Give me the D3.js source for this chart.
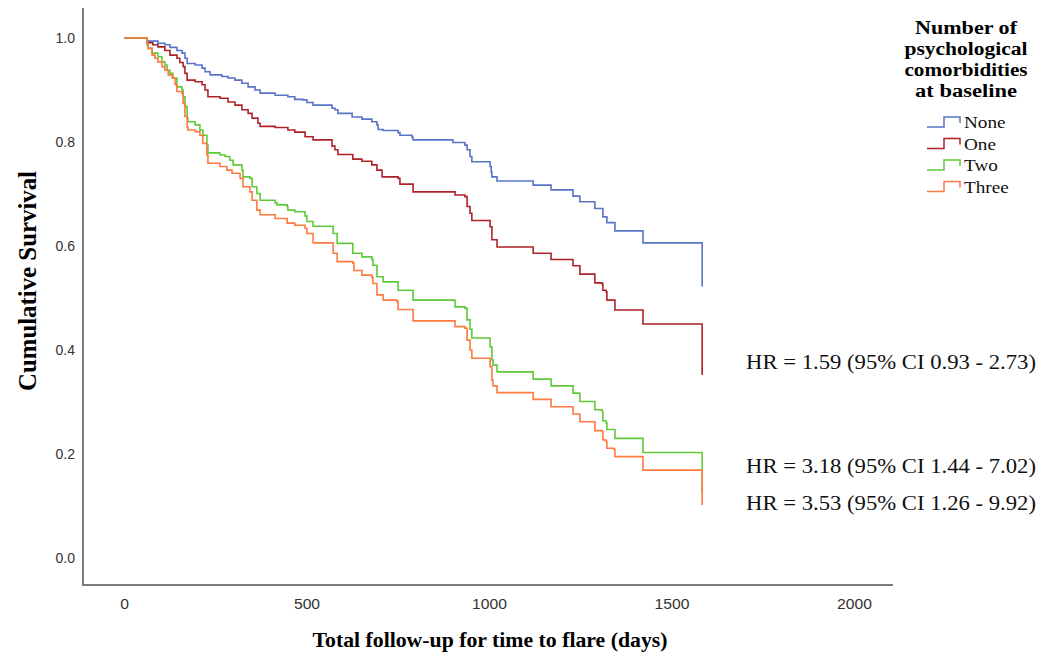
<!DOCTYPE html>
<html>
<head>
<meta charset="utf-8">
<script src="https://cdn.jsdelivr.net/npm/d3@7"></script>
<style>
  body { margin: 0; background: #fff; }
  svg { display: block; }
</style>
</head>
<body>
<div id="plot"></div>
<script>
// survival steps: [day, cumulative survival after the drop]
var noneSteps = [[0,1],[63,0.994],[93,0.990],[112,0.987],[126,0.982],[145,0.976],[159,0.971],[167,0.961],[173,0.951],
  [195,0.948],[214,0.942],[222,0.935],[236,0.929],[268,0.926],[285,0.923],[304,0.919],[323,0.913],[340,0.906],
  [359,0.900],[373,0.894],[414,0.890],[449,0.887],[468,0.882],[490,0.881],[501,0.876],[518,0.871],[570,0.865],
  [578,0.862],[586,0.855],[625,0.848],[652,0.844],[679,0.839],[693,0.833],[696,0.824],[710,0.822],[751,0.818],
  [756,0.813],[789,0.809],[792,0.804],[901,0.799],[934,0.794],[940,0.785],[948,0.772],[953,0.762],[1003,0.753],
  [1006,0.742],[1008,0.733],[1022,0.725],[1121,0.717],[1170,0.708],[1230,0.696],[1249,0.685],[1290,0.672],
  [1312,0.656],[1323,0.645],[1345,0.629],[1422,0.606],[1584,0.522]];

var oneSteps = [[0,1],[63,0.991],[79,0.987],[93,0.983],[112,0.976],[126,0.967],[145,0.961],[153,0.953],[162,0.945],
  [167,0.932],[173,0.919],[195,0.916],[214,0.910],[222,0.900],[230,0.887],[263,0.884],[285,0.877],[304,0.871],
  [323,0.862],[340,0.855],[351,0.846],[367,0.836],[373,0.830],[414,0.828],[449,0.823],[468,0.819],[496,0.810],
  [518,0.804],[570,0.792],[578,0.785],[586,0.776],[627,0.767],[652,0.763],[679,0.756],[693,0.746],[707,0.733],
  [751,0.730],[756,0.719],[792,0.704],[907,0.698],[934,0.695],[940,0.676],[948,0.663],[953,0.649],[1003,0.637],
  [1008,0.612],[1022,0.598],[1121,0.586],[1170,0.574],[1230,0.562],[1249,0.546],[1290,0.529],[1310,0.527],
  [1312,0.515],[1321,0.512],[1323,0.496],[1345,0.477],[1422,0.450],[1584,0.352]];

var twoSteps = [[0,1],[63,0.987],[66,0.980],[77,0.971],[93,0.964],[104,0.954],[112,0.948],[118,0.938],[126,0.932],
  [134,0.923],[145,0.906],[159,0.900],[162,0.887],[167,0.868],[173,0.846],[175,0.839],[195,0.833],[208,0.823],
  [216,0.813],[227,0.794],[230,0.779],[263,0.775],[277,0.772],[290,0.765],[299,0.756],[323,0.746],[326,0.733],
  [345,0.730],[351,0.714],[364,0.701],[373,0.688],[414,0.683],[419,0.679],[447,0.676],[449,0.669],[468,0.666],
  [496,0.658],[501,0.647],[518,0.638],[573,0.624],[584,0.605],[627,0.586],[652,0.579],[679,0.574],[682,0.563],
  [693,0.541],[710,0.531],[751,0.515],[792,0.496],[907,0.483],[934,0.480],[940,0.458],[948,0.440],[953,0.423],
  [1003,0.406],[1008,0.381],[1011,0.371],[1022,0.358],[1121,0.344],[1170,0.331],[1230,0.317],[1249,0.301],
  [1290,0.285],[1310,0.282],[1312,0.264],[1321,0.260],[1323,0.247],[1345,0.230],[1422,0.203],[1584,0.126]];

var threeSteps = [[0,1],[63,0.990],[66,0.980],[77,0.967],[85,0.961],[93,0.954],[104,0.945],[112,0.938],[121,0.929],
  [132,0.923],[140,0.910],[145,0.897],[159,0.894],[162,0.874],[167,0.849],[173,0.829],[175,0.823],[195,0.820],
  [208,0.813],[216,0.797],[227,0.775],[230,0.759],[263,0.753],[282,0.746],[296,0.740],[318,0.730],[326,0.714],
  [345,0.704],[351,0.688],[364,0.669],[373,0.660],[414,0.653],[447,0.644],[468,0.640],[496,0.634],[501,0.624],
  [518,0.606],[573,0.586],[584,0.570],[627,0.567],[630,0.553],[652,0.544],[679,0.540],[682,0.528],[693,0.506],
  [710,0.496],[748,0.493],[751,0.478],[792,0.456],[907,0.445],[934,0.442],[940,0.419],[948,0.400],[953,0.384],
  [1003,0.368],[1008,0.342],[1011,0.331],[1022,0.318],[1121,0.305],[1170,0.291],[1230,0.277],[1249,0.262],
  [1290,0.245],[1310,0.243],[1312,0.227],[1321,0.224],[1323,0.211],[1342,0.209],[1345,0.195],[1422,0.169],[1584,0.102]];

var groupNames = ["None", "One", "Two", "Three"];
var groupColors = ["#5873c8", "#b0222a", "#5fca38", "#ff7a40"];
var xTicks = [0, 500, 1000, 1500, 2000];
var yTicks = [0, 0.2, 0.4, 0.6, 0.8, 1.0];
var legendTitle = ["Number of", "psychological", "comorbidities", "at baseline"];
var legendTitleWidths = [102, 123, 123, 102];
var hrLabels = [
  {text: "HR = 1.59 (95% CI 0.93 - 2.73)", y: 0.377},
  {text: "HR = 3.18 (95% CI 1.44 - 7.02)", y: 0.177},
  {text: "HR = 3.53 (95% CI 1.26 - 9.92)", y: 0.106}
];

var serif = "'Liberation Serif', 'Times New Roman', serif";
var sans = "'Liberation Sans', Arial, sans-serif";

var W = 1050, H = 658;
var svg = d3.select("#plot").append("svg").attr("width", W).attr("height", H);

var x = d3.scaleLinear().domain([0, 2000]).range([124, 854]);
var y = d3.scaleLinear().domain([0, 1]).range([558, 38]);

// widen text a bit like the (slightly stretched) original
function stretch(sel, k) {
  sel.each(function() {
    var w = this.getComputedTextLength();
    d3.select(this).attr("textLength", w * k).attr("lengthAdjust", "spacingAndGlyphs");
  });
}

// frame (left + bottom only, no tick marks)
svg.append("path")
  .attr("d", "M83,8V585H893")
  .attr("fill", "none")
  .attr("stroke", "#7a7a7a")
  .attr("stroke-width", 2);

var xAxis = svg.append("g")
  .attr("transform", "translate(0,596)")
  .call(d3.axisBottom(x).tickValues(xTicks).tickSize(0).tickFormat(d3.format("d")));
xAxis.select(".domain").remove();
xAxis.selectAll("text")
  .attr("font-family", sans)
  .attr("font-size", 14)
  .attr("fill", "#333")
  .call(stretch, 1.12);

var yAxis = svg.append("g")
  .attr("transform", "translate(78,0)")
  .call(d3.axisLeft(y).tickValues(yTicks).tickSize(0).tickFormat(d3.format(".1f")));
yAxis.select(".domain").remove();
yAxis.selectAll("text")
  .attr("font-family", sans)
  .attr("font-size", 14)
  .attr("fill", "#333");

// axis titles
svg.append("text")
  .attr("x", 490).attr("y", 647)
  .attr("text-anchor", "middle")
  .attr("font-family", serif)
  .attr("font-weight", "bold")
  .attr("font-size", 21)
  .attr("textLength", 355)
  .attr("lengthAdjust", "spacingAndGlyphs")
  .text("Total follow-up for time to flare (days)");

svg.append("text")
  .attr("transform", "translate(36,281) rotate(-90)")
  .attr("text-anchor", "middle")
  .attr("font-family", serif)
  .attr("font-weight", "bold")
  .attr("font-size", 25)
  .attr("textLength", 220)
  .attr("lengthAdjust", "spacingAndGlyphs")
  .text("Cumulative Survival");

// curves
var line = d3.line()
  .x(d => x(d[0]))
  .y(d => y(d[1]))
  .curve(d3.curveStepAfter);

var series = [noneSteps, oneSteps, twoSteps, threeSteps];
svg.append("g").selectAll("path")
  .data(series)
  .join("path")
  .attr("d", line)
  .attr("fill", "none")
  .attr("stroke", (d, i) => groupColors[i])
  .attr("stroke-width", 1.6);

// HR annotations
svg.append("g").selectAll("text")
  .data(hrLabels)
  .join("text")
  .attr("x", 746)
  .attr("y", d => y(d.y) + 7)
  .attr("font-family", serif)
  .attr("font-size", 20)
  .attr("fill", "#111")
  .attr("textLength", 290)
  .attr("lengthAdjust", "spacingAndGlyphs")
  .text(d => d.text);

// legend
var leg = svg.append("g");
leg.selectAll("text.title")
  .data(legendTitle)
  .join("text")
  .attr("class", "title")
  .attr("x", 966)
  .attr("y", (d, i) => 34 + i * 21)
  .attr("text-anchor", "middle")
  .attr("font-family", serif)
  .attr("font-weight", "bold")
  .attr("font-size", 18)
  .attr("textLength", (d, i) => legendTitleWidths[i])
  .attr("lengthAdjust", "spacingAndGlyphs")
  .text(d => d);

var items = leg.selectAll("g.item")
  .data(groupNames)
  .join("g")
  .attr("class", "item")
  .attr("transform", (d, i) => "translate(0," + (122 + i * 21.5) + ")");

items.append("path")
  .attr("d", "M927,5H944V-5H960V1")
  .attr("fill", "none")
  .attr("stroke", (d, i) => groupColors[i])
  .attr("stroke-width", 1.5);

items.append("text")
  .attr("x", 964)
  .attr("y", 6)
  .attr("font-family", serif)
  .attr("font-size", 17)
  .attr("fill", "#111")
  .text(d => d)
  .call(stretch, 1.13);
</script>
</body>
</html>
